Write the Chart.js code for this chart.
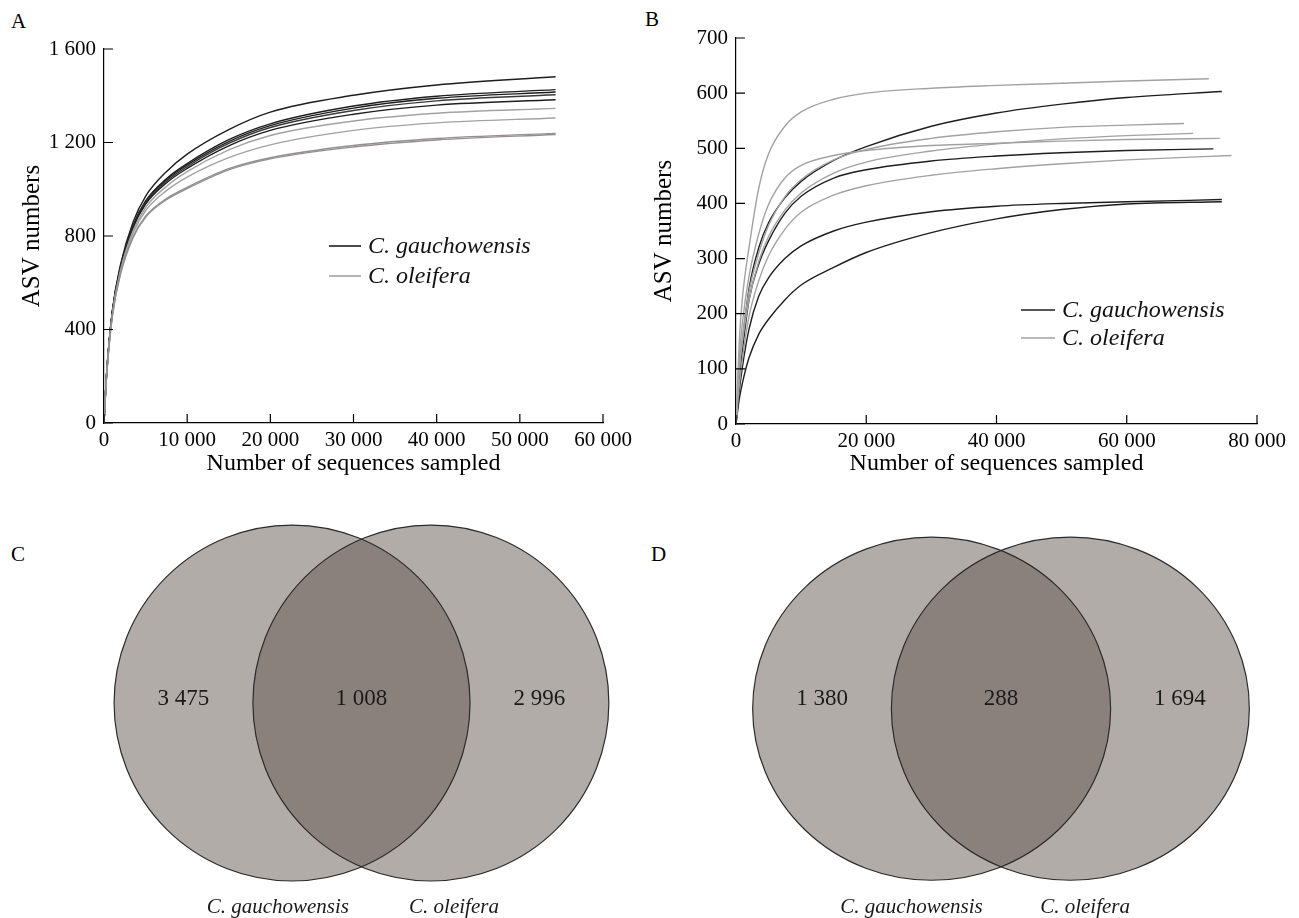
<!DOCTYPE html>
<html>
<head>
<meta charset="utf-8">
<script src="https://cdn.jsdelivr.net/npm/chart.js@4.4.0/dist/chart.umd.min.js"></script>
<style>
  html, body { margin: 0; padding: 0; background: #fff; }
  body { width: 1299px; height: 918px; position: relative; overflow: hidden; }
  canvas { position: absolute; }
  .tag { position: absolute; font: 21px "Liberation Serif", serif; color: #000; }
</style>
</head>
<body>
<div class="tag" style="left:11px;top:9px">A</div>
<div class="tag" style="left:645px;top:7px">B</div>
<div class="tag" style="left:11px;top:542px">C</div>
<div class="tag" style="left:651px;top:542px">D</div>

<canvas id="chart-a" width="640" height="480" style="left:0;top:0"></canvas>
<canvas id="chart-b" width="659" height="480" style="left:640px;top:0"></canvas>
<canvas id="chart-c" width="640" height="438" style="left:0;top:480px"></canvas>
<canvas id="chart-d" width="659" height="438" style="left:640px;top:480px"></canvas>

<script>
const FONT = "'Liberation Serif', 'Times New Roman', serif";
const BLACK = "#1e1e1e";
const GRAY = "#a2a2a2";
const GRAY_DARK = "#958f93";

// ---- panel A: rarefaction curves ----
const aDepth = [0, 300, 1000, 2000, 3500, 5000, 7500, 10000, 15000, 20000, 30000, 40000, 54300];
const aGau1 = [0, 205, 480, 680, 860, 970, 1075, 1150, 1255, 1330, 1402, 1446, 1481];
const aGau2 = [0, 203, 476, 672, 845, 950, 1045, 1110, 1212, 1280, 1356, 1398, 1426];
const aGau3 = [0, 203, 475, 670, 842, 946, 1040, 1104, 1204, 1272, 1347, 1389, 1416];
const aGau4 = [0, 202, 473, 668, 839, 942, 1034, 1097, 1196, 1264, 1337, 1378, 1404];
const aGau5 = [0, 201, 471, 664, 834, 936, 1027, 1089, 1186, 1252, 1321, 1360, 1383];
const aOle1 = [0, 199, 466, 656, 822, 922, 1012, 1075, 1168, 1230, 1292, 1325, 1346];
const aOle2 = [0, 197, 462, 650, 812, 908, 994, 1052, 1135, 1190, 1252, 1284, 1305];
const aOle3 = [0, 195, 457, 642, 797, 885, 960, 1008, 1088, 1135, 1187, 1217, 1239];
const aOle4 = [0, 194, 455, 639, 793, 880, 955, 1003, 1083, 1130, 1181, 1211, 1234];
const aXTicks = [0, 10000, 20000, 30000, 40000, 50000, 60000];
const aYTicks = [0, 400, 800, 1200, 1600];

// ---- panel B: rarefaction curves (last point = each sample's own depth) ----
const bDepth = [0, 500, 1000, 2000, 3500, 5000, 7500, 10000, 15000, 20000, 30000, 40000, 50000, 60000];
const bGau1 = [0, 90, 150, 245, 320, 365, 410, 440, 478, 503, 540, 564, 580, 592, 603];
const bGau2 = [0, 80, 135, 225, 290, 332, 382, 413, 446, 461, 477, 486, 492, 496, 499];
const bGau3 = [0, 60, 105, 172, 232, 265, 300, 323, 350, 366, 385, 395, 400, 403, 407];
const bGau4 = [0, 45, 75, 120, 163, 190, 225, 252, 284, 311, 347, 372, 389, 399, 403];
const bOle1 = [0, 150, 230, 320, 428, 490, 540, 566, 589, 600, 609, 614, 618, 622, 626];
const bOle2 = [0, 100, 160, 240, 310, 360, 412, 443, 479, 498, 518, 530, 538, 542, 545];
const bOle3 = [0, 95, 150, 225, 295, 340, 388, 419, 455, 475, 495, 508, 517, 523, 527];
const bOle4 = [0, 120, 185, 268, 345, 398, 446, 469, 487, 496, 505, 509, 513, 516, 518];
const bOle5 = [0, 70, 120, 195, 260, 305, 353, 384, 415, 432, 451, 463, 472, 479, 487];
const bLastDepth = [74600, 73300, 74600, 74600, 72600, 68800, 70200, 74300, 76100];
const bXTicks = [0, 20000, 40000, 60000, 80000];
const bYTicks = [0, 100, 200, 300, 400, 500, 600, 700];

// ---- panels C, D: shared ASVs ----
const groups = ["C. gauchowensis", "C. oleifera"];
const vennC = [3475, 1008, 2996];
const vennD = [1380, 288, 1694];

const fmt = v => Number(v).toLocaleString("en-US").replace(/,/g, " ");

const inwardTicks = {
  id: "inwardTicks",
  afterDraw(chart, args, opts) {
    const { ctx, chartArea: a, scales: { x, y } } = chart;
    ctx.save();
    ctx.strokeStyle = "#000";
    ctx.lineWidth = 1.2;
    ctx.beginPath();
    x.ticks.forEach(t => {
      const px = x.getPixelForValue(t.value);
      ctx.moveTo(px, a.bottom);
      ctx.lineTo(px, a.bottom - opts.length);
    });
    y.ticks.forEach(t => {
      const py = y.getPixelForValue(t.value);
      ctx.moveTo(a.left, py);
      ctx.lineTo(a.left + opts.length, py);
    });
    ctx.stroke();
    ctx.restore();
  },
};

const curveLegend = {
  id: "curveLegend",
  afterDraw(chart, args, opts) {
    const { ctx } = chart;
    ctx.save();
    ctx.font = `italic 24px ${FONT}`;
    ctx.textBaseline = "middle";
    ctx.fillStyle = "#111";
    opts.items.forEach((it, i) => {
      const y = opts.y + i * opts.gap;
      ctx.strokeStyle = it.color;
      ctx.lineWidth = 1.6;
      ctx.beginPath();
      ctx.moveTo(opts.x, y);
      ctx.lineTo(opts.x + opts.len, y);
      ctx.stroke();
      ctx.fillText(it.text, opts.x + opts.len + 7, y + 1);
    });
    ctx.restore();
  },
};

function curve(xs, ys, color) {
  return {
    data: ys.map((v, i) => ({ x: xs[i], y: v })),
    borderColor: color,
    borderWidth: 1.4,
    pointRadius: 0,
    cubicInterpolationMode: "monotone",
    fill: false,
  };
}

function rarefaction(id, cfg) {
  return new Chart(document.getElementById(id), {
    type: "line",
    data: { datasets: cfg.datasets },
    options: {
      responsive: false,
      animation: false,
      layout: { padding: { top: cfg.top, right: cfg.right, left: 0, bottom: 0 } },
      plugins: {
        legend: { display: false },
        tooltip: { enabled: false },
        inwardTicks: { length: 9 },
        curveLegend: cfg.legend,
      },
      scales: {
        x: {
          type: "linear",
          min: 0,
          max: cfg.xTicks[cfg.xTicks.length - 1],
          afterBuildTicks: s => { s.ticks = cfg.xTicks.map(v => ({ value: v })); },
          afterFit: s => { s.height = cfg.xHeight; },
          border: { display: true, color: "#000", width: 1.2 },
          grid: { display: false, drawTicks: false },
          ticks: { color: "#000", font: { family: FONT, size: 21 }, padding: 5, maxRotation: 0, autoSkip: false, callback: fmt },
          title: { display: true, text: "Number of sequences sampled", color: "#000", font: { family: FONT, size: 24 }, padding: { top: 0, bottom: 2 } },
        },
        y: {
          type: "linear",
          min: 0,
          max: cfg.yTicks[cfg.yTicks.length - 1],
          afterBuildTicks: s => { s.ticks = cfg.yTicks.map(v => ({ value: v })); },
          afterFit: s => { s.width = cfg.yWidth; },
          border: { display: true, color: "#000", width: 1.2 },
          grid: { display: false, drawTicks: false },
          ticks: { color: "#000", font: { family: FONT, size: 21 }, padding: 8, callback: fmt },
          title: { display: true, text: "ASV numbers", color: "#000", font: { family: FONT, size: 25 }, padding: { top: cfg.yTitlePad, bottom: 0 } },
        },
      },
    },
    plugins: [inwardTicks, curveLegend],
  });
}

rarefaction("chart-a", {
  top: 49, right: 37, yWidth: 104, xHeight: 57, yTitlePad: 17,
  xTicks: aXTicks, yTicks: aYTicks,
  datasets: [
    curve(aDepth, aOle4, GRAY_DARK),
    curve(aDepth, aOle3, GRAY_DARK),
    curve(aDepth, aOle2, GRAY),
    curve(aDepth, aOle1, GRAY),
    curve(aDepth, aGau5, BLACK),
    curve(aDepth, aGau4, "#3a3a3a"),
    curve(aDepth, aGau3, BLACK),
    curve(aDepth, aGau2, BLACK),
    curve(aDepth, aGau1, BLACK),
  ],
  legend: { x: 329, y: 246, gap: 30, len: 32, items: [
    { text: groups[0], color: BLACK }, { text: groups[1], color: GRAY },
  ] },
});

const bSeries = [
  [bGau1, BLACK], [bGau2, BLACK], [bGau3, BLACK], [bGau4, BLACK],
  [bOle1, GRAY], [bOle2, GRAY], [bOle3, GRAY], [bOle4, GRAY], [bOle5, GRAY],
];
rarefaction("chart-b", {
  top: 38, right: 42, yWidth: 96, xHeight: 56, yTitlePad: 9,
  xTicks: bXTicks, yTicks: bYTicks,
  datasets: bSeries.map(([ys, color], i) => curve(bDepth.concat([bLastDepth[i]]), ys, color)).reverse(),
  legend: { x: 381, y: 310, gap: 28, len: 34, items: [
    { text: groups[0], color: BLACK }, { text: groups[1], color: GRAY },
  ] },
});

// Venn: two unit-radius sets centred at +/- half the separation, drawn through the scales
const vennDraw = {
  id: "vennDraw",
  beforeDatasetsDraw(chart, args, opts) {
    const { ctx, scales: { x, y } } = chart;
    const rx = x.getPixelForValue(1) - x.getPixelForValue(0);
    const ry = y.getPixelForValue(0) - y.getPixelForValue(1);
    const cy = y.getPixelForValue(0);
    const centres = [-opts.sep / 2, opts.sep / 2].map(v => x.getPixelForValue(v));
    ctx.save();
    centres.forEach(cx => {
      ctx.beginPath();
      ctx.ellipse(cx, cy, rx, ry, 0, 0, Math.PI * 2);
      ctx.fillStyle = "rgba(95, 82, 75, 0.48)";
      ctx.fill();
    });
    ctx.strokeStyle = "#2b2b2b";
    ctx.lineWidth = 1.2;
    centres.forEach(cx => {
      ctx.beginPath();
      ctx.ellipse(cx, cy, rx, ry, 0, 0, Math.PI * 2);
      ctx.stroke();
    });
    ctx.restore();
  },
  afterDatasetsDraw(chart, args, opts) {
    const { ctx } = chart;
    ctx.save();
    ctx.textAlign = "center";
    ctx.textBaseline = "middle";
    ctx.fillStyle = "#1a1a1a";
    ctx.font = `23px ${FONT}`;
    chart.getDatasetMeta(0).data.forEach((pt, i) => ctx.fillText(fmt(opts.counts[i]), pt.x, pt.y));
    ctx.font = `italic 21px ${FONT}`;
    chart.getDatasetMeta(1).data.forEach((pt, i) => ctx.fillText(groups[i], pt.x, pt.y));
    ctx.restore();
  },
};

function venn(id, counts, cfg) {
  return new Chart(document.getElementById(id), {
    type: "scatter",
    data: {
      datasets: [
        { data: [{ x: -1, y: cfg.labelY }, { x: 0, y: cfg.labelY }, { x: 1, y: cfg.labelY }], pointRadius: 0 },
        { data: cfg.names.map(nx => ({ x: nx, y: cfg.nameY })), pointRadius: 0 },
      ],
    },
    options: {
      responsive: false,
      animation: false,
      layout: { padding: 0 },
      plugins: { legend: { display: false }, tooltip: { enabled: false }, vennDraw: { sep: cfg.sep, counts } },
      scales: {
        x: { type: "linear", display: false, min: cfg.x[0], max: cfg.x[1] },
        y: { type: "linear", display: false, min: cfg.y[0], max: cfg.y[1] },
      },
    },
    plugins: [vennDraw],
  });
}

venn("chart-c", vennC, { sep: 0.78, x: [-2.031, 1.565], y: [-1.208, 1.253], labelY: 0.025, nameY: -1.15, names: [-0.47, 0.52] });
venn("chart-d", vennD, { sep: 0.775, x: [-2.017, 1.665], y: [-1.22, 1.333], labelY: 0.055, nameY: -1.16, names: [-0.5, 0.47] });
</script>
</body>
</html>
